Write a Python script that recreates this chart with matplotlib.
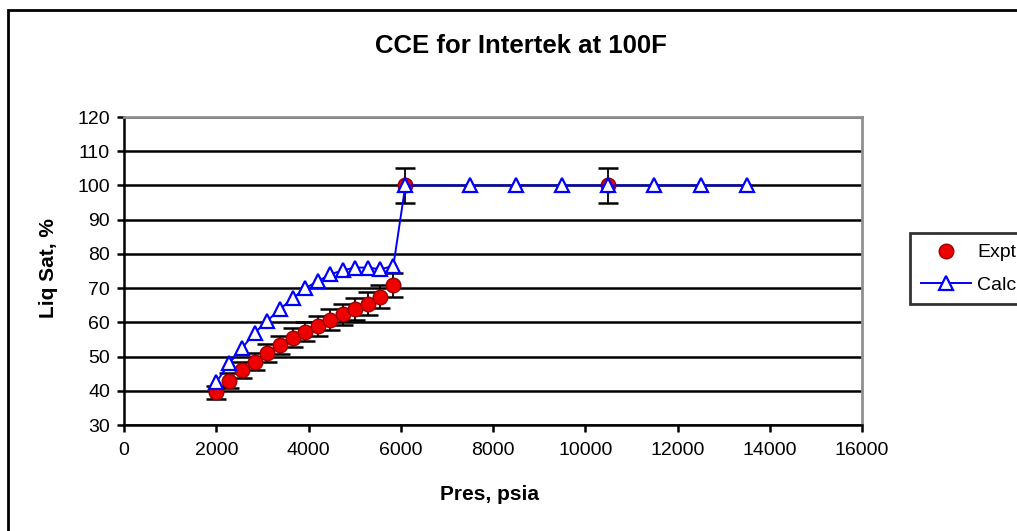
import matplotlib
matplotlib.use("Agg")
import matplotlib.pyplot as plt
from matplotlib.patches import Rectangle
import numpy as np

plt.rcParams['font.family'] = ['Liberation Sans', 'DejaVu Sans']

# experimental liquid saturation
expt_p = [2000, 2280, 2560, 2840, 3110, 3390, 3660, 3930, 4200, 4470,
          4740, 5010, 5290, 5560, 5840, 6100, 10500]
expt_sat = [39.5, 43.0, 46.0, 48.5, 51.0, 53.3, 55.5, 57.3, 59.0, 60.8,
            62.3, 63.8, 65.5, 67.5, 71.0, 100.0, 100.0]
expt_err = [v * 0.05 for v in expt_sat]

# calculated liquid saturation
calc_p = [2000, 2280, 2560, 2840, 3110, 3390, 3660, 3930, 4200, 4470,
          4740, 5010, 5290, 5560, 5840, 6100, 7500, 8500, 9500, 10500,
          11500, 12500, 13500]
calc_sat = [42.5, 48.0, 52.5, 57.0, 60.5, 64.0, 67.0, 70.0, 72.0, 74.0,
            75.2, 76.0, 76.0, 75.5, 76.5, 100.0, 100.0, 100.0, 100.0, 100.0,
            100.0, 100.0, 100.0]

W, H = 1017, 531
fig = plt.figure(figsize=(W / 100, H / 100), dpi=100)
fig.patches.append(Rectangle((8 / W, -0.1), 1.2, 1 - 10 / H + 0.1,
                             transform=fig.transFigure, fill=False,
                             edgecolor='black', lw=2))

ax = fig.add_axes([124 / W, 1 - 425 / H, 738 / W, 308 / H])

ax.errorbar(expt_p, expt_sat, yerr=expt_err, fmt='none', ecolor='black',
            elinewidth=1.3, capsize=7, capthick=1.8, zorder=3)
ax.plot(expt_p, expt_sat, 'o', color='#ee0000', markeredgecolor='#990000',
        markersize=10.5, label='Expt', zorder=4)
ax.plot(calc_p, calc_sat, '-^', color='blue', markerfacecolor='white',
        markeredgecolor='blue', markeredgewidth=1.6, markersize=9.5, lw=1.4,
        label='Calc', zorder=5)

ax.set_xlim(0, 16000)
ax.set_ylim(30, 120)
ax.set_xticks(np.arange(0, 16001, 2000))
ax.set_yticks(np.arange(30, 121, 10))
ax.yaxis.grid(True, color='black', lw=1.8)
ax.set_axisbelow(True)
for s in ['top', 'right']:
    ax.spines[s].set_color('#909090')
    ax.spines[s].set_linewidth(2)
for s in ['left', 'bottom']:
    ax.spines[s].set_color('black')
    ax.spines[s].set_linewidth(1.8)
ax.tick_params(direction='out', length=5, width=1.8, labelsize=14,
               color='black')
ax.tick_params(axis='x', pad=7)
ax.tick_params(axis='y', pad=5)

fig.text(489 / W, 1 - 495 / H, 'Pres, psia', ha='center', va='center',
         fontsize=15, fontweight='bold')
fig.text(48 / W, 1 - 268 / H, 'Liq Sat, %', ha='center', va='center',
         rotation=90, fontsize=15, fontweight='bold')
fig.text(521 / W, 1 - 46 / H, 'CCE for Intertek at 100F', ha='center',
         va='center', fontsize=18.5, fontweight='bold')

leg = fig.legend(loc='upper left', bbox_to_anchor=(910 / W, 1 - 233 / H),
                 frameon=True, fancybox=False, edgecolor='black', fontsize=14,
                 borderpad=0.55, labelspacing=0.75, handlelength=2.6,
                 handletextpad=0.3, borderaxespad=0)
leg.get_frame().set_linewidth(2)

fig.savefig('out.png', dpi=100)
